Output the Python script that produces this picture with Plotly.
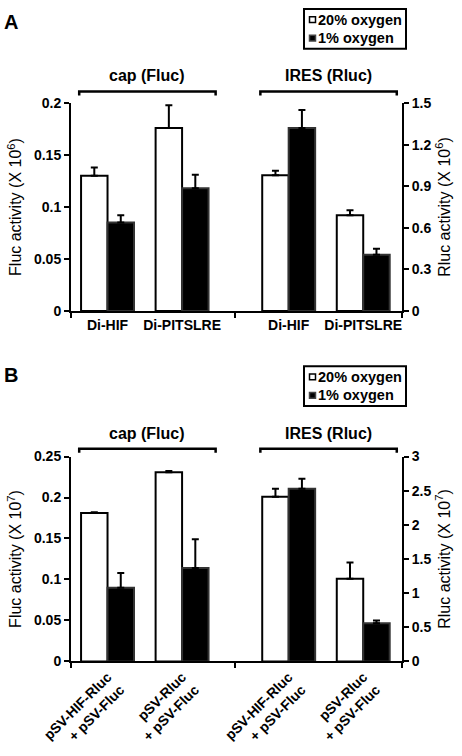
import plotly.graph_objects as go

# ---------------- data ----------------
labels_A = ["Di-HIF", "Di-PITSLRE", "Di-HIF", "Di-PITSLRE"]
labels_B = ["pSV-HIF-Rluc<br>+ pSV-Fluc", "pSV-Rluc<br>+ pSV-Fluc",
            "pSV-HIF-Rluc<br>+ pSV-Fluc", "pSV-Rluc<br>+ pSV-Fluc"]
series_names = ["20% oxygen", "1% oxygen"]

# Panel A (x 10^6)
A_fluc_20 = [0.130, 0.176]
A_fluc_20_err = [0.008, 0.022]
A_fluc_1 = [0.085, 0.118]
A_fluc_1_err = [0.007, 0.013]
A_rluc_20 = [0.98, 0.69]
A_rluc_20_err = [0.032, 0.036]
A_rluc_1 = [1.32, 0.405]
A_rluc_1_err = [0.13, 0.043]

# Panel B (x 10^7)
B_fluc_20 = [0.181, 0.231]
B_fluc_20_err = [0.001, 0.0015]
B_fluc_1 = [0.090, 0.114]
B_fluc_1_err = [0.018, 0.035]
B_rluc_20 = [2.41, 1.21]
B_rluc_20_err = [0.12, 0.24]
B_rluc_1 = [2.53, 0.56]
B_rluc_1_err = [0.145, 0.04]

A_left_ticks = [0, 0.05, 0.1, 0.15, 0.2]
A_right_ticks = [0, 0.3, 0.6, 0.9, 1.2, 1.5]
B_left_ticks = [0, 0.05, 0.1, 0.15, 0.2, 0.25]
B_right_ticks = [0, 0.5, 1, 1.5, 2, 2.5, 3]

# ---------------- layout helpers ----------------
W, H = 462, 756
L, R = 71, 402
FONT = "Liberation Sans, Arial, sans-serif"


def xp(p):
    return (p - L) / (R - L)


def yp(p):
    return 1 - p / H


GAP = 0.43
centers = [i + (GAP if i >= 2 else 0) for i in range(4)]
BW = 0.355
XMIN, XMAX = -0.49, 3.95
MID = (centers[1] + centers[2]) / 2

fig = go.Figure()


def add_panel(xa, ya_l, ya_r, fl20, fl20e, fl1, fl1e, rl20, rl20e, rl1, rl1e):
    specs = [
        (centers[:2], fl20, fl20e, ya_l, "white", "black", -BW, series_names[0]),
        (centers[:2], fl1, fl1e, ya_l, "black", "#333", 0, series_names[1]),
        (centers[2:], rl20, rl20e, ya_r, "white", "black", -BW, series_names[0]),
        (centers[2:], rl1, rl1e, ya_r, "black", "#333", 0, series_names[1]),
    ]
    for xs, ys, es, ya, fill, lc, off, name in specs:
        fig.add_trace(go.Bar(
            x=xs, y=ys, xaxis=xa, yaxis=ya, name=name, showlegend=False,
            width=BW, offset=off,
            marker=dict(color=fill, line=dict(color=lc, width=2)),
            error_y=dict(type="data", symmetric=False, array=es,
                         arrayminus=[0] * len(es), color="black",
                         thickness=2, width=3.5),
        ))


add_panel("x", "y", "y2", A_fluc_20, A_fluc_20_err, A_fluc_1, A_fluc_1_err,
          A_rluc_20, A_rluc_20_err, A_rluc_1, A_rluc_1_err)
add_panel("x2", "y3", "y4", B_fluc_20, B_fluc_20_err, B_fluc_1, B_fluc_1_err,
          B_rluc_20, B_rluc_20_err, B_rluc_1, B_rluc_1_err)

tickfont = dict(family=FONT, size=14, color="black", weight="bold")
titlefont = dict(family=FONT, size=16, color="black")


def xaxis_cfg(labels, angle):
    return dict(
        range=[XMIN, XMAX], showline=True, linewidth=2, linecolor="black",
        showgrid=False, zeroline=False, tickmode="array", tickvals=centers,
        ticktext=labels, ticks="", tickfont=tickfont, tickangle=angle,
        minor=dict(tickmode="array", tickvals=[XMIN, MID, XMAX], ticks="outside",
                   ticklen=5, tickwidth=2, tickcolor="black"),
        fixedrange=True,
    )


def yaxis_cfg(rng, ticks, title, side, anchor, dom=None, overlay=None):
    d = dict(
        range=rng, showline=True, linewidth=2, linecolor="black",
        showgrid=False, zeroline=False, tickmode="array", tickvals=ticks,
        ticktext=[f"{t:g}" for t in ticks], ticks="outside", ticklen=5,
        tickwidth=2, tickcolor="black", tickfont=tickfont, side=side,
        anchor=anchor, title=dict(text=title, font=titlefont, standoff=8),
        fixedrange=True,
    )
    if dom is not None:
        d["domain"] = dom
    if overlay is not None:
        d["overlaying"] = overlay
    return d


domA = [yp(312), yp(98)]
domB = [yp(673), yp(462)]

fig.update_layout(
    width=W, height=H, margin=dict(l=L, r=W - R, t=0, b=0),
    paper_bgcolor="white", plot_bgcolor="white", showlegend=False,
    font=dict(family=FONT, color="black"),
    xaxis=dict(**xaxis_cfg(labels_A, 0), anchor="y"),
    xaxis2=dict(**xaxis_cfg(labels_B, -45), anchor="y3"),
    yaxis=yaxis_cfg([0, 0.2], A_left_ticks, "Fluc activity (X 10<sup>6</sup>)", "left", "x", domA),
    yaxis2=yaxis_cfg([0, 1.5], A_right_ticks, "Rluc activity (X 10<sup>6</sup>)", "right", "x", overlay="y"),
    yaxis3=yaxis_cfg([0, 0.25], B_left_ticks, "Fluc activity (X 10<sup>7</sup>)", "left", "x2", domB),
    yaxis4=yaxis_cfg([0, 3], B_right_ticks, "Rluc activity (X 10<sup>7</sup>)", "right", "x2", overlay="y3"),
)

# brackets, group titles, legends, panel letters
shapes = []
annotations = []
for off, letter in [(0, "A"), (368, "B")]:
    xa = "x" if off == 0 else "x2"
    yb = 86 + off
    for (c_a, c_b), title in [((centers[0], centers[1]), "cap (Fluc)"),
                               ((centers[2], centers[3]), "IRES (Rluc)")]:
        x0, x1 = c_a - 0.38, c_b + 0.45
        shapes.append(dict(type="path", xref=xa, yref="paper",
                           path=f"M {x0},{yp(yb + 4)} L {x0},{yp(yb)} L {x1},{yp(yb)} L {x1},{yp(yb + 4)}",
                           line=dict(color="black", width=2.5)))
        annotations.append(dict(xref=xa, yref="paper", x=(x0 + x1) / 2, y=yp(70 + off),
                                text=title, showarrow=False, yanchor="middle",
                                font=dict(family=FONT, size=16, color="black", weight="bold")))
    # legend box
    shapes.append(dict(type="rect", xref="paper", yref="paper",
                       x0=xp(304), x1=xp(406), y0=yp(42 + off), y1=yp(1 + off),
                       line=dict(color="black", width=2), fillcolor="white"))
    for k, (yc, fill) in enumerate([(12, "white"), (31, "black")]):
        shapes.append(dict(type="rect", xref="paper", yref="paper",
                           x0=xp(309.5), x1=xp(315.5), y0=yp(yc + off + 3), y1=yp(yc + off - 3),
                           line=dict(color="black" if k == 0 else "#444", width=1.5), fillcolor=fill))
        annotations.append(dict(xref="paper", yref="paper", x=xp(316), y=yp(yc + off),
                                text=series_names[k], showarrow=False, xanchor="left",
                                yanchor="middle",
                                font=dict(family=FONT, size=14.5, color="black", weight="bold")))
    annotations.append(dict(xref="paper", yref="paper", x=xp(11), y=yp(14 + off + (0 if off == 0 else -4)),
                            text=letter, showarrow=False, xanchor="center", yanchor="middle",
                            font=dict(family=FONT, size=20, color="black", weight="bold")))

fig.update_layout(shapes=shapes, annotations=annotations)

fig.write_html("out.html", config={"displayModeBar": False},
               post_script="document.body.style.margin='0';")
